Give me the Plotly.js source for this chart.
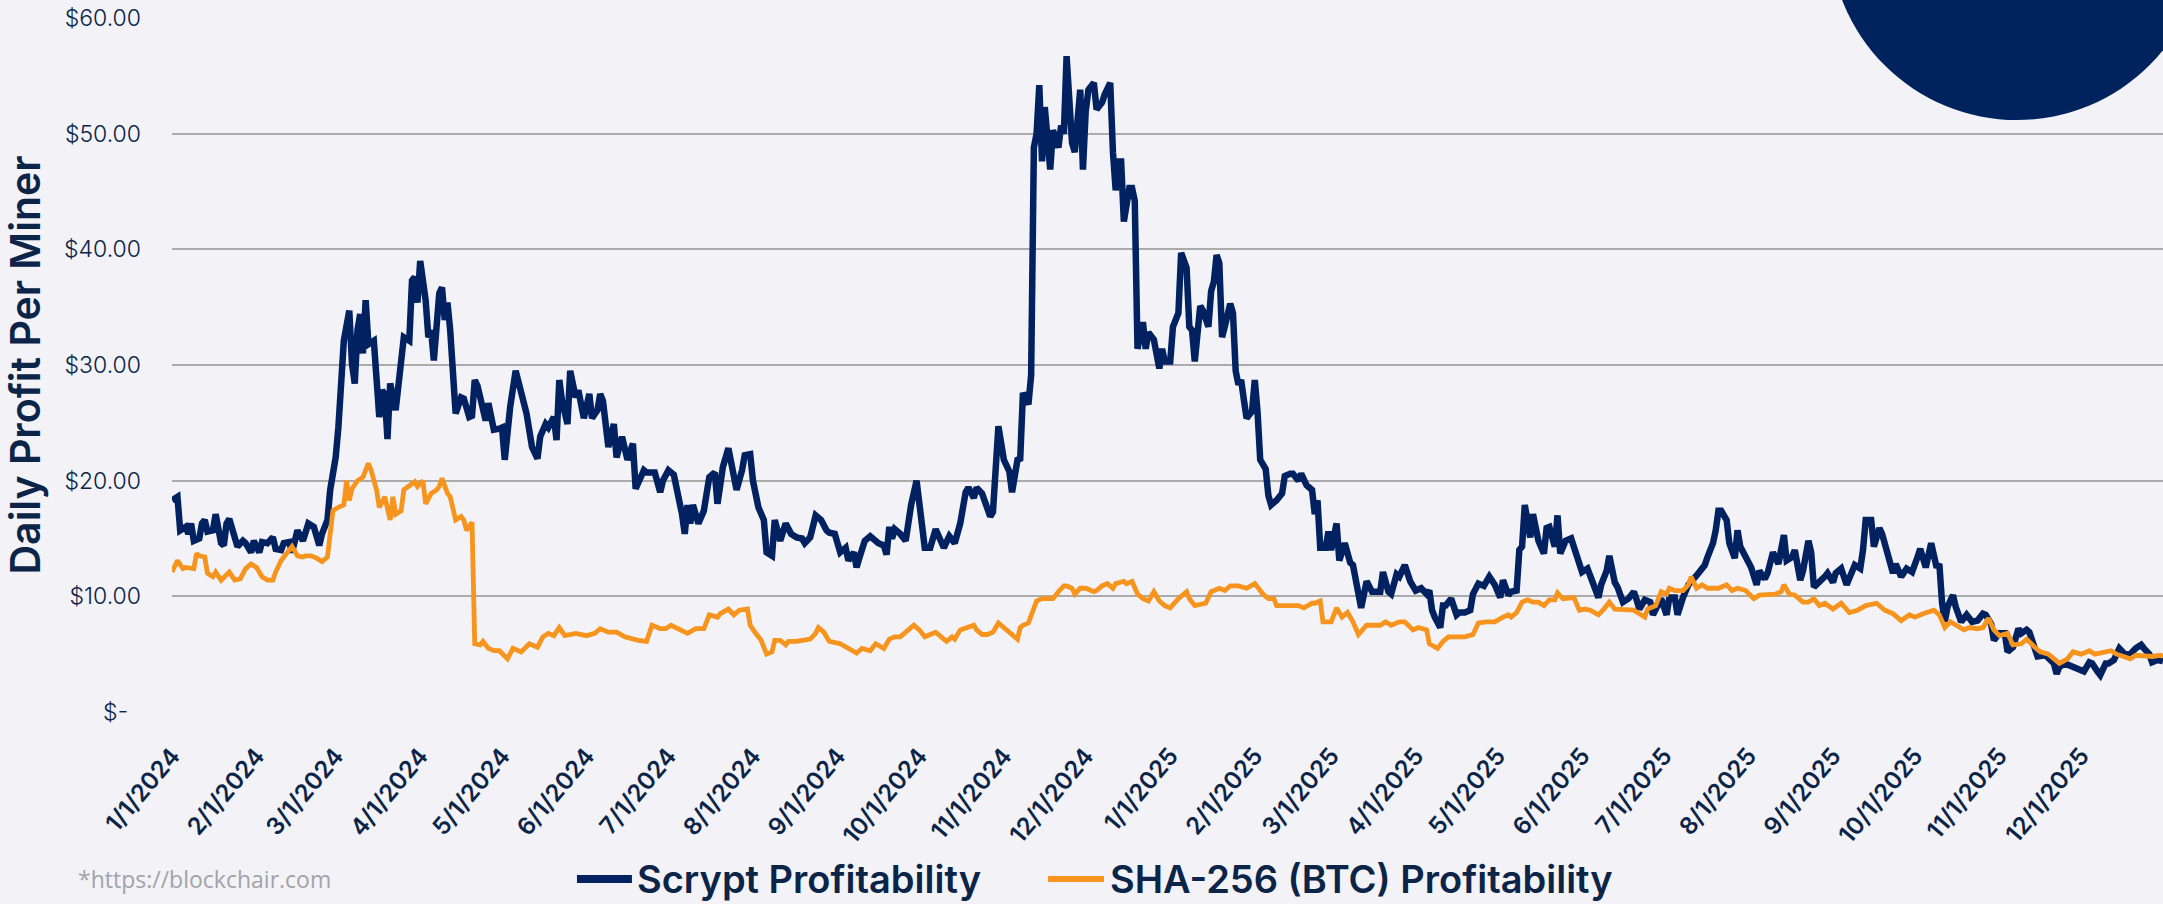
<!DOCTYPE html>
<html>
<head>
<meta charset="utf-8">
<script src="https://cdn.plot.ly/plotly-3.0.1.min.js"></script>
<style>
  html, body { margin: 0; padding: 0; background: #f2f2f7; }
  #chart { width: 2163px; height: 904px; }
</style>
</head>
<body>
<div id="chart"></div>
<script>
// Day offsets from 2024-01-01 and daily profit per miner (USD)
const startDate = '2024-01-01';

const scryptDays = [0,2,3,5,6,7,8,10,11,12,13,15,16,18,19,20,21,23,24,26,27,29,30,32,33,35,37,38,40,41,43,44,46,48,50,52,54,55,57,58,60,61,62,63,65,66,67,68,69,70,71,72,74,76,77,78,79,80,82,84,85,87,88,89,90,91,93,94,95,96,98,99,100,101,102,104,106,107,109,110,111,112,113,115,116,118,120,121,122,124,126,128,130,132,134,135,137,138,140,141,142,143,145,146,148,149,151,153,154,156,157,158,159,160,162,163,165,167,169,170,173,174,177,179,180,182,184,185,187,188,189,190,191,193,195,197,199,200,202,204,206,207,209,210,212,213,215,217,218,220,221,223,225,227,229,231,232,234,236,238,240,241,243,245,247,248,250,251,252,254,256,259,261,262,263,264,265,267,269,271,273,274,275,276,278,280,283,285,287,289,291,292,294,295,297,298,300,301,302,303,305,307,308,310,311,312,314,315,316,317,318,319,320,322,323,325,326,327,328,330,331,333,334,335,336,338,339,341,342,344,345,346,347,348,349,351,352,353,354,356,357,358,360,362,363,364,366,367,369,370,372,373,374,375,377,378,380,381,382,383,384,385,386,388,389,390,391,392,393,394,396,397,398,399,401,402,403,405,407,408,410,411,413,414,416,418,419,420,421,423,424,425,427,428,430,432,433,435,436,438,440,442,443,444,446,447,449,450,452,454,456,458,460,461,462,463,465,466,467,469,471,472,474,476,477,479,481,483,485,487,488,490,491,493,494,495,496,498,499,501,503,504,505,507,508,509,511,513,515,517,519,520,521,523,524,526,527,529,530,532,534,536,537,538,540,542,543,545,546,548,549,551,552,554,556,559,560,562,563,565,566,567,568,570,571,573,574,575,577,579,581,582,584,585,587,589,591,592,594,595,597,598,600,601,602,604,606,607,609,610,612,614,615,617,619,620,621,623,624,626,627,629,631,632,634,636,638,640,641,643,644,645,647,648,649,650,651,653,654,655,656,658,660,662,664,665,667,668,670,672,673,675,677,678,680,681,683,684,687,689,690,691,692,694,696,698,700,701,703,704,706,707,709,710,712,713,714,716,718,720,721,722,723,725,726,728,730];
const scryptProfit = [18.3,18.6,15.7,16.0,15.4,16.3,14.8,15.0,16.3,16.6,15.6,15.7,17.1,14.6,14.4,16.3,16.7,15.1,14.3,14.8,14.6,13.8,14.8,13.8,14.7,14.6,15.1,14.1,14.0,14.6,14.7,13.8,15.7,14.8,16.3,16.0,14.4,15.4,16.6,19.2,22.0,24.6,29.0,32.1,34.7,30.1,28.4,33.0,34.4,31.0,35.6,31.8,32.1,25.5,27.8,27.5,23.6,28.4,26.1,30.1,32.4,32.1,37.3,37.6,35.4,39.0,35.6,32.4,33.0,30.4,36.2,36.7,33.9,35.4,33.0,25.8,27.2,27.1,25.5,25.6,28.7,28.2,27.2,25.2,26.7,24.4,24.5,24.6,21.8,26.4,29.5,27.8,25.8,22.9,21.9,23.8,24.9,24.6,25.5,23.5,28.7,26.9,24.9,29.5,27.2,27.8,25.4,27.5,25.4,26.1,27.5,26.9,24.1,22.9,24.9,22.0,23.8,21.8,23.2,19.3,20.9,20.7,20.7,19.0,20.0,20.9,20.5,19.5,17.1,15.4,17.9,16.3,17.9,16.3,17.4,20.3,20.7,18.0,21.2,22.8,20.3,19.2,20.9,22.2,22.3,20.0,17.7,16.6,13.8,13.5,16.6,14.8,16.3,15.4,15.1,15.0,14.6,15.1,17.0,16.6,15.7,15.5,15.4,13.8,14.2,13.1,13.8,12.5,13.3,14.8,15.2,14.6,14.4,13.6,16.0,15.0,15.8,15.4,14.8,17.9,20.0,17.9,16.7,14.2,14.2,15.8,14.2,15.2,14.6,16.3,19.0,19.4,18.5,19.4,18.9,18.3,16.9,17.3,21.0,24.7,21.8,20.8,19.0,21.8,21.9,27.6,26.6,29.1,48.8,50.0,54.2,47.6,52.3,46.9,50.3,48.8,50.7,50.0,56.7,49.2,48.4,53.8,46.9,51.9,53.8,54.4,52.1,52.7,53.4,54.4,48.4,45.1,47.6,47.6,42.4,45.3,45.3,44.2,31.4,33.7,31.4,32.8,32.2,29.7,31.4,30.3,30.3,33.3,34.5,39.7,38.4,33.3,33.0,30.3,35.1,34.7,33.3,36.4,37.2,39.5,38.8,32.4,33.3,35.3,34.5,29.5,28.3,28.7,27.0,25.4,26.0,28.7,26.0,21.8,21.0,18.7,17.9,18.3,18.9,20.4,20.6,20.6,20.0,20.6,19.6,19.2,17.1,18.3,14.2,14.2,15.6,14.0,16.3,13.1,14.6,12.9,12.7,10.2,9.0,11.3,10.4,10.4,10.4,12.1,10.4,10.2,11.9,11.7,12.7,11.3,10.5,10.7,10.2,10.5,8.8,8.2,7.3,9.2,9.2,9.8,8.4,8.6,8.6,8.8,10.2,11.1,10.9,11.7,11.0,9.9,11.4,10.1,10.4,10.5,14.0,14.3,17.9,15.1,17.1,14.8,13.7,15.9,16.0,14.3,17.0,13.7,14.8,15.0,13.4,12.1,12.4,11.8,11.2,9.9,11.0,12.2,13.5,11.2,10.8,9.5,9.8,10.4,9.7,8.9,9.7,9.5,8.4,9.4,9.8,8.4,9.9,9.9,8.4,9.9,11.0,11.8,12.1,12.7,13.4,14.6,15.7,17.4,17.4,16.6,14.6,13.3,15.7,14.3,13.4,12.5,11.0,12.2,11.5,12.0,13.8,12.8,15.3,13.1,13.4,14.0,11.4,12.2,14.8,13.8,10.8,11.2,11.7,12.0,11.2,12.0,12.4,11.0,11.7,12.7,12.4,14.0,16.6,16.6,14.3,15.9,15.4,13.7,12.0,12.8,11.7,12.4,12.1,13.4,14.1,12.5,13.5,14.6,12.5,12.8,9.4,7.8,9.1,10.1,9.1,8.5,7.8,8.4,7.8,7.9,8.5,8.4,7.6,6.2,6.8,6.8,5.2,5.6,7.2,6.8,7.1,6.9,5.5,4.8,4.9,4.3,4.2,3.3,3.9,4.2,4.0,3.9,3.7,3.5,4.3,4.2,3.5,3.2,4.2,4.2,4.5,5.0,5.5,5.0,5.0,5.5,5.6,5.8,5.5,5.0,4.3,4.5,4.4];

const shaDays = [0,2,4,5,8,9,10,12,13,15,16,18,21,23,25,27,29,31,33,35,37,38,40,42,44,46,48,49,51,53,55,57,58,59,61,63,64,65,66,68,70,72,73,75,76,78,80,81,82,84,85,87,89,90,92,93,95,97,98,99,101,102,104,106,107,108,109,110,111,113,114,116,118,120,123,125,128,131,134,136,138,140,142,144,148,152,155,157,160,163,166,169,171,174,176,179,181,183,186,189,192,195,197,200,201,204,206,208,211,212,214,216,218,220,221,223,225,226,229,231,234,236,237,239,241,245,248,251,253,256,258,261,263,265,267,270,272,274,276,278,280,282,284,286,287,289,291,294,295,297,299,301,303,305,307,309,310,311,312,314,316,317,319,321,323,325,327,328,330,331,333,335,338,339,341,343,345,346,349,350,352,354,356,358,360,362,364,366,369,372,373,375,379,381,384,386,388,391,394,397,399,400,402,404,405,408,410,413,415,418,419,421,422,425,427,429,431,433,435,438,441,443,445,447,450,452,455,457,460,461,464,466,468,471,474,477,479,482,485,488,490,491,493,495,497,499,501,503,505,507,508,510,512,514,516,518,520,523,525,527,529,531,534,536,538,540,541,544,546,548,549,551,554,556,557,559,561,563,567,570,572,574,577,580,582,585,588,590,591,593,595,598,600,602,604,606,609,612,615,618,621,625,628,631,634,637,639,642,644,646,648,650,652,654,657,659,662,664,666,668,670,673,675,678,680,683,685,688,690,692,695,697,700,703,705,708,711,713,715,718,720,723,726,729,730];
const shaProfit = [12.1,13.1,12.4,12.5,12.4,13.7,13.5,13.4,12.0,11.7,12.1,11.4,12.1,11.4,11.5,12.4,12.8,12.5,11.7,11.4,11.4,12.1,13.1,13.7,14.3,13.5,13.4,13.5,13.5,13.3,13.0,13.4,15.1,17.4,17.7,17.9,20.0,18.3,19.3,20.0,20.3,21.5,20.9,19.2,17.7,18.6,16.6,18.6,17.1,17.4,19.2,19.5,19.9,19.5,20.0,18.0,18.9,19.2,19.5,20.2,18.9,18.6,16.6,16.9,16.6,15.7,16.1,16.4,5.9,5.8,6.1,5.5,5.3,5.3,4.6,5.5,5.2,5.9,5.6,6.5,6.8,6.6,7.3,6.6,6.8,6.6,6.8,7.2,6.9,6.9,6.5,6.3,6.2,6.1,7.5,7.2,7.2,7.5,7.1,6.8,7.2,7.2,8.4,8.2,8.5,8.9,8.4,8.8,8.9,7.5,6.8,6.2,5.0,5.2,6.2,6.2,5.8,6.1,6.1,6.2,6.3,6.8,7.3,6.9,6.1,5.9,5.5,5.1,5.5,5.3,5.9,5.5,6.3,6.5,6.5,7.1,7.5,7.1,6.5,6.7,6.9,6.5,6.1,6.5,6.3,7.1,7.3,7.5,7.1,6.7,6.7,6.9,7.7,7.3,6.9,6.5,6.3,7.3,7.5,7.7,9.0,9.6,9.8,9.8,9.8,10.4,10.9,10.9,10.7,10.2,10.7,10.7,10.4,10.5,10.9,11.1,10.7,11.1,11.3,11.1,11.3,10.2,9.8,9.6,10.4,9.6,9.2,9.0,9.8,10.4,9.8,9.2,9.4,10.4,10.7,10.5,10.9,10.9,10.7,11.1,10.5,10.2,9.8,9.8,9.2,9.2,9.2,9.2,9.0,9.4,9.4,9.6,7.8,7.8,9.0,8.2,8.6,7.8,6.7,7.5,7.5,7.5,7.8,7.5,7.8,7.8,7.1,7.3,7.1,5.9,5.5,6.1,6.5,6.5,6.5,6.7,7.7,7.8,7.8,8.2,8.4,8.2,8.6,9.5,9.7,9.5,9.5,9.2,9.7,9.7,10.3,9.8,9.9,9.9,8.8,8.9,8.8,8.4,8.9,9.5,8.9,8.9,8.9,8.8,8.5,8.2,8.9,9.2,10.4,10.2,10.7,10.5,10.5,11.0,11.7,10.7,11.0,10.7,10.7,11.0,10.5,10.7,10.5,9.8,10.1,10.1,10.2,10.4,11.0,10.2,10.1,9.5,9.5,9.8,9.2,9.4,8.9,9.4,8.6,8.8,9.2,9.4,8.8,8.5,7.9,8.4,8.2,8.5,8.6,8.8,8.4,7.3,7.8,7.5,7.1,7.3,7.2,7.3,8.1,7.1,6.6,6.8,5.8,5.9,6.3,5.6,5.2,5.0,4.6,4.2,4.6,5.2,5.0,5.3,5.0,5.2,5.3,5.0,4.8,4.6,4.9,4.8,4.8,4.9,4.8];

const yTickValues = [0, 10, 20, 30, 40, 50, 60];
const yTickLabels = ['$-\u00a0\u00a0', '$10.00', '$20.00', '$30.00', '$40.00', '$50.00', '$60.00'];
const seriesNames = ['Scrypt Profitability', 'SHA-256 (BTC) Profitability'];

function toDate(offset) {
  const t = Date.UTC(2024, 0, 1) + offset * 86400000;
  return new Date(t).toISOString().slice(0, 10);
}

const navy = '#012160';
const orange = '#f7941d';
const seriesColors = [navy, orange];
const textNavy = '#0b2447';

const traces = [
  {
    x: scryptDays.map(toDate), y: scryptProfit, type: 'scatter', mode: 'lines',
    name: seriesNames[0], line: { color: navy, width: 6.5 }
  },
  {
    x: shaDays.map(toDate), y: shaProfit, type: 'scatter', mode: 'lines',
    name: seriesNames[1], line: { color: orange, width: 4.8 }
  }
];

// Legend drawn below the plot as line keys and text labels (longer keys than Plotly's built-in legend)
const legendY = -0.2406;
const legendKeys = [
  { x0: 0.2034, x1: 0.2310, textX: 0.2325, width: 8 },
  { x0: 0.4400, x1: 0.4681, textX: 0.4701, width: 6 }
];

const shapes = [{
  type: 'circle', xref: 'paper', yref: 'paper', layer: 'above',
  x0: 0.8325, x1: 1.0209, y0: 0.8529, y1: 1.394,
  fillcolor: '#00235d', line: { width: 0 }
}];
const annotations = [{
  text: '*https://blockchair.com', xref: 'paper', yref: 'paper',
  x: -0.0482, y: legendY, xanchor: 'left', yanchor: 'middle', showarrow: false,
  font: { family: 'Open Sans', size: 23, color: '#a3a3a8' }
}];
legendKeys.forEach((k, i) => {
  shapes.push({
    type: 'line', xref: 'paper', yref: 'paper', x0: k.x0, x1: k.x1, y0: legendY, y1: legendY,
    line: { color: seriesColors[i], width: k.width }
  });
  annotations.push({
    text: seriesNames[i], xref: 'paper', yref: 'paper', x: k.textX, y: legendY,
    xanchor: 'left', yanchor: 'middle', showarrow: false,
    font: { family: 'Inter', size: 38, color: textNavy, weight: 600 }
  });
});

const layout = {
  width: 2163, height: 904,
  margin: { l: 172, r: 0, t: 18, b: 192 },
  paper_bgcolor: '#f2f2f7', plot_bgcolor: '#f2f2f7',
  showlegend: false,
  xaxis: {
    type: 'date', range: [startDate, '2025-12-31'],
    tick0: startDate, dtick: 'M1', tickformat: '%-m/%-d/%Y', tickangle: -50,
    showgrid: false, zeroline: false, showline: false, ticks: '',
    tickfont: { family: 'Inter', size: 24, color: textNavy, weight: 600 },
    ticklabelstandoff: 24
  },
  yaxis: {
    range: [0, 60], tickvals: yTickValues, ticktext: yTickLabels,
    showgrid: true, gridcolor: '#ababab', gridwidth: 2, zeroline: false,
    showline: false, ticks: '', ticklabelstandoff: 30,
    tickfont: { family: 'Inter', size: 23, color: textNavy, weight: 300 },
    title: { text: 'Daily Profit Per Miner', standoff: 12,
      font: { family: 'Inter', size: 41, color: textNavy, weight: 600 } }
  },
  shapes: shapes,
  annotations: annotations
};

Plotly.newPlot('chart', traces, layout, { displayModeBar: false, staticPlot: true });
</script>
</body>
</html>
